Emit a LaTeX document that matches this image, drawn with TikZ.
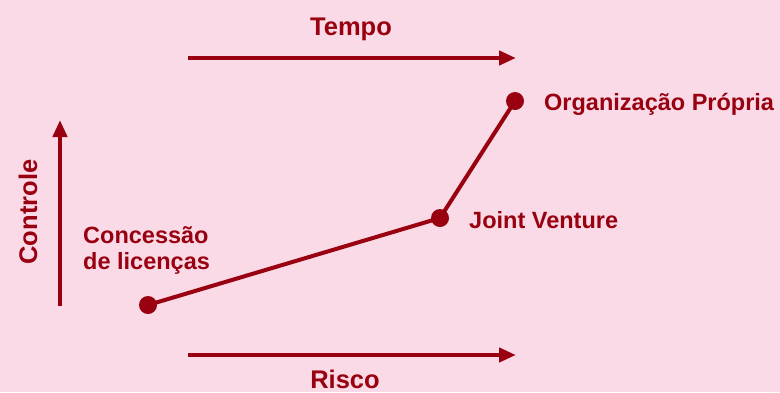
\documentclass[tikz,border=0pt]{standalone}
\usepackage{fontspec}
\setmainfont{Liberation Sans}
\usetikzlibrary{arrows.meta}
\definecolor{bgpink}{HTML}{FADAE6}
\definecolor{wine}{HTML}{990010}
\tikzset{
  axis/.style={wine, line width=4.5pt, -{Triangle[length=17pt,width=14pt]}},
  link/.style={wine, line width=4pt},
  dot/.style={circle, fill=wine, inner sep=0pt, minimum size=18pt},
  lbl/.style={text=wine, font=\fontsize{23.5}{26}\selectfont\bfseries, inner sep=0pt},
  axlbl/.style={text=wine, font=\fontsize{25.5}{28}\selectfont\bfseries, inner sep=0pt}
}
\begin{document}
\begin{tikzpicture}[x=1pt,y=-1pt]
  \fill[bgpink] (0,0) rectangle (780,392);
  \useasboundingbox (0,0) rectangle (780,392);

  % axes
  \coordinate (t0) at (188,58);  \coordinate (t1) at (516,58);
  \coordinate (r0) at (188,355); \coordinate (r1) at (516,355);
  \coordinate (c0) at (60,306);  \coordinate (c1) at (60,120);
  \draw[axis] (t0) -- (t1);
  \draw[axis] (r0) -- (r1);
  \draw[axis] (c0) -- (c1);

  \node[axlbl, anchor=base] (tempo) at (351,35) {Tempo};
  \node[axlbl, anchor=base] (risco) at (345,388) {Risco};
  \node[axlbl, rotate=90, anchor=base] (controle) at (37,212) {Controle};

  % strategy path
  \node[dot] (lic) at (148,305) {};
  \node[dot] (jv) at (440,218) {};
  \node[dot] (org) at (515,101) {};
  \draw[link] (lic.center) -- (jv.center) -- (org.center);

  \node[lbl, anchor=base west, align=left] (liclbl) at (83,269) {Concessão\\[0pt]de licenças};
  \node[lbl, anchor=base west] (jvlbl) at (469,228) {Joint Venture};
  \node[lbl, anchor=base west] (orglbl) at (544,110) {Organização Própria};
\end{tikzpicture}
\end{document}
